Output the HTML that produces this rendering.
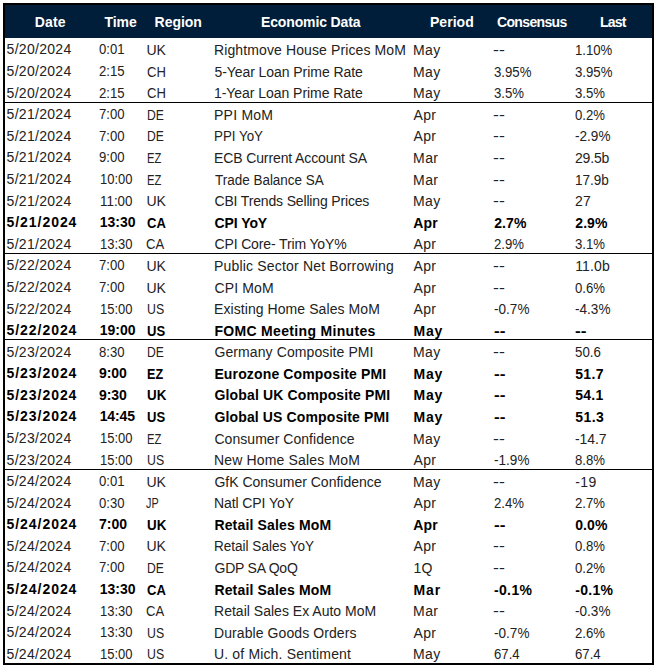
<!DOCTYPE html>
<html><head><meta charset="utf-8"><title>Economic Calendar</title>
<style>
html,body{margin:0;padding:0;background:#fff;}
body{width:659px;height:670px;position:relative;overflow:hidden;font-family:"Liberation Sans",sans-serif;color:#222;}
.frame{position:absolute;left:3px;top:3px;width:647px;height:658px;border:2px solid #000;}
.hdr{position:absolute;left:5px;top:5px;width:647px;height:32.5px;background:#001e39;}
.h{position:absolute;top:12px;height:20px;line-height:20px;color:#fff;font-weight:bold;font-size:14px;white-space:nowrap;}
.c{position:absolute;white-space:nowrap;transform-origin:0 0;font-size:14px;line-height:20px;height:20px;}
.b{font-weight:bold;color:#000;font-size:14px;}
.sep{position:absolute;left:5px;width:647px;height:1px;background:#000;}
</style></head><body>
<div class="frame"></div>
<div class="hdr"></div>
<div class="c" style="left:6.60px;top:39px;letter-spacing:0.289px">5/20/2024</div>
<div class="c" style="left:98.73px;top:39px;transform:scaleX(0.9357)">0:01</div>
<div class="c" style="left:146.40px;top:40px;letter-spacing:-0.117px">UK</div>
<div class="c" style="left:214.00px;top:40px;letter-spacing:0.111px">Rightmove House Prices MoM</div>
<div class="c" style="left:413.10px;top:40px;letter-spacing:0.326px">May</div>
<div class="c" style="left:493.12px;top:40px;transform:scaleX(1.2634)">--</div>
<div class="c" style="left:575.26px;top:40px;transform:scaleX(0.9397)">1.10%</div>
<div class="c" style="left:6.60px;top:61px;letter-spacing:0.289px">5/20/2024</div>
<div class="c" style="left:98.66px;top:61px;transform:scaleX(0.9380)">2:15</div>
<div class="c" style="left:147.30px;top:62px;transform:scaleX(0.9314)">CH</div>
<div class="c" style="left:214.42px;top:62px;letter-spacing:-0.060px">5-Year Loan Prime Rate</div>
<div class="c" style="left:413.10px;top:62px;letter-spacing:0.326px">May</div>
<div class="c" style="left:494.25px;top:62px;transform:scaleX(0.9426)">3.95%</div>
<div class="c" style="left:574.99px;top:62px;transform:scaleX(0.9426)">3.95%</div>
<div class="c" style="left:6.60px;top:83px;letter-spacing:0.289px">5/20/2024</div>
<div class="c" style="left:98.66px;top:83px;transform:scaleX(0.9380)">2:15</div>
<div class="c" style="left:147.30px;top:83px;transform:scaleX(0.9314)">CH</div>
<div class="c" style="left:214.00px;top:83px;letter-spacing:-0.046px">1-Year Loan Prime Rate</div>
<div class="c" style="left:413.10px;top:83px;letter-spacing:0.326px">May</div>
<div class="c" style="left:494.25px;top:83px;transform:scaleX(0.9408)">3.5%</div>
<div class="c" style="left:574.99px;top:83px;transform:scaleX(0.9408)">3.5%</div>
<div class="c" style="left:6.60px;top:104px;letter-spacing:0.289px">5/21/2024</div>
<div class="c" style="left:98.66px;top:104px;transform:scaleX(0.9376)">7:00</div>
<div class="c" style="left:147.13px;top:105px;transform:scaleX(0.8669)">DE</div>
<div class="c" style="left:214.00px;top:105px;letter-spacing:0.241px">PPI MoM</div>
<div class="c" style="left:413.60px;top:105px;letter-spacing:0.293px">Apr</div>
<div class="c" style="left:493.12px;top:105px;transform:scaleX(1.2634)">--</div>
<div class="c" style="left:575.05px;top:105px;transform:scaleX(0.9391)">0.2%</div>
<div class="c" style="left:6.60px;top:126px;letter-spacing:0.289px">5/21/2024</div>
<div class="c" style="left:98.66px;top:126px;transform:scaleX(0.9376)">7:00</div>
<div class="c" style="left:147.13px;top:126px;transform:scaleX(0.8669)">DE</div>
<div class="c" style="left:214.05px;top:126px;transform:scaleX(0.9529)">PPI YoY</div>
<div class="c" style="left:413.60px;top:126px;letter-spacing:0.293px">Apr</div>
<div class="c" style="left:493.12px;top:126px;transform:scaleX(1.2634)">--</div>
<div class="c" style="left:575.03px;top:126px;transform:scaleX(0.9692)">-2.9%</div>
<div class="c" style="left:6.60px;top:147px;letter-spacing:0.289px">5/21/2024</div>
<div class="c" style="left:98.65px;top:147px;transform:scaleX(0.9377)">9:00</div>
<div class="c" style="left:147.20px;top:148px;transform:scaleX(0.8018)">EZ</div>
<div class="c" style="left:214.00px;top:148px;letter-spacing:-0.117px">ECB Current Account SA</div>
<div class="c" style="left:413.10px;top:148px;letter-spacing:0.408px">Mar</div>
<div class="c" style="left:493.12px;top:148px;transform:scaleX(1.2634)">--</div>
<div class="c" style="left:575.00px;top:148px;letter-spacing:-0.168px">29.5b</div>
<div class="c" style="left:6.60px;top:169px;letter-spacing:0.289px">5/21/2024</div>
<div class="c" style="left:99.57px;top:169px;transform:scaleX(0.9271)">10:00</div>
<div class="c" style="left:147.20px;top:170px;transform:scaleX(0.8018)">EZ</div>
<div class="c" style="left:215.00px;top:170px;transform:scaleX(0.9616)">Trade Balance SA</div>
<div class="c" style="left:413.10px;top:170px;letter-spacing:0.408px">Mar</div>
<div class="c" style="left:493.12px;top:170px;transform:scaleX(1.2634)">--</div>
<div class="c" style="left:575.23px;top:170px;transform:scaleX(0.9666)">17.9b</div>
<div class="c" style="left:6.60px;top:191px;letter-spacing:0.289px">5/21/2024</div>
<div class="c" style="left:99.54px;top:191px;transform:scaleX(0.9563)">11:00</div>
<div class="c" style="left:146.40px;top:191px;letter-spacing:-0.117px">UK</div>
<div class="c" style="left:214.48px;top:191px;letter-spacing:-0.160px">CBI Trends Selling Prices</div>
<div class="c" style="left:413.10px;top:191px;letter-spacing:0.326px">May</div>
<div class="c" style="left:493.12px;top:191px;transform:scaleX(1.2634)">--</div>
<div class="c" style="left:575.00px;top:191px;letter-spacing:0.143px">27</div>
<div class="c b" style="left:6.54px;top:212px;letter-spacing:0.948px">5/21/2024</div>
<div class="c b" style="left:99.66px;top:212px;letter-spacing:0.008px">13:30</div>
<div class="c b" style="left:147.20px;top:213px;transform:scaleX(0.9281)">CA</div>
<div class="c b" style="left:214.57px;top:213px;letter-spacing:-0.091px">CPI YoY</div>
<div class="c b" style="left:413.25px;top:213px;letter-spacing:0.194px">Apr</div>
<div class="c b" style="left:494.25px;top:213px;letter-spacing:0.081px">2.7%</div>
<div class="c b" style="left:575.28px;top:213px;letter-spacing:0.075px">2.9%</div>
<div class="c" style="left:6.60px;top:234px;letter-spacing:0.289px">5/21/2024</div>
<div class="c" style="left:99.57px;top:234px;transform:scaleX(0.9271)">13:30</div>
<div class="c" style="left:146.47px;top:234px;transform:scaleX(0.9328)">CA</div>
<div class="c" style="left:214.46px;top:234px;letter-spacing:-0.134px">CPI Core- Trim YoY%</div>
<div class="c" style="left:413.60px;top:234px;letter-spacing:0.293px">Apr</div>
<div class="c" style="left:494.25px;top:234px;transform:scaleX(0.9407)">2.9%</div>
<div class="c" style="left:574.99px;top:234px;transform:scaleX(0.9408)">3.1%</div>
<div class="c" style="left:6.60px;top:255px;letter-spacing:0.289px">5/22/2024</div>
<div class="c" style="left:98.66px;top:255px;transform:scaleX(0.9376)">7:00</div>
<div class="c" style="left:146.40px;top:256px;letter-spacing:-0.117px">UK</div>
<div class="c" style="left:214.00px;top:256px;letter-spacing:0.180px">Public Sector Net Borrowing</div>
<div class="c" style="left:413.60px;top:256px;letter-spacing:0.293px">Apr</div>
<div class="c" style="left:493.12px;top:256px;transform:scaleX(1.2634)">--</div>
<div class="c" style="left:575.20px;top:256px;letter-spacing:0.130px">11.0b</div>
<div class="c" style="left:6.60px;top:277px;letter-spacing:0.289px">5/22/2024</div>
<div class="c" style="left:98.66px;top:277px;transform:scaleX(0.9376)">7:00</div>
<div class="c" style="left:146.40px;top:278px;letter-spacing:-0.117px">UK</div>
<div class="c" style="left:214.46px;top:278px;letter-spacing:0.146px">CPI MoM</div>
<div class="c" style="left:413.60px;top:278px;letter-spacing:0.293px">Apr</div>
<div class="c" style="left:493.12px;top:278px;transform:scaleX(1.2634)">--</div>
<div class="c" style="left:575.05px;top:278px;transform:scaleX(0.9391)">0.6%</div>
<div class="c" style="left:6.60px;top:299px;letter-spacing:0.289px">5/22/2024</div>
<div class="c" style="left:99.57px;top:299px;transform:scaleX(0.9271)">15:00</div>
<div class="c" style="left:146.52px;top:299px;transform:scaleX(0.8780)">US</div>
<div class="c" style="left:214.00px;top:299px;letter-spacing:0.074px">Existing Home Sales MoM</div>
<div class="c" style="left:413.60px;top:299px;letter-spacing:0.293px">Apr</div>
<div class="c" style="left:494.25px;top:299px;transform:scaleX(0.9692)">-0.7%</div>
<div class="c" style="left:575.03px;top:299px;transform:scaleX(0.9692)">-4.3%</div>
<div class="c b" style="left:6.54px;top:320px;letter-spacing:0.948px">5/22/2024</div>
<div class="c b" style="left:99.66px;top:320px;letter-spacing:0.008px">19:00</div>
<div class="c b" style="left:147.40px;top:321px;transform:scaleX(0.9318)">US</div>
<div class="c b" style="left:214.40px;top:321px;letter-spacing:0.326px">FOMC Meeting Minutes</div>
<div class="c b" style="left:413.57px;top:321px;letter-spacing:0.727px">May</div>
<div class="c b" style="left:494.25px;top:321px;transform:scaleX(1.2312)">--</div>
<div class="c b" style="left:575.05px;top:321px;transform:scaleX(1.2312)">--</div>
<div class="c" style="left:6.60px;top:342px;letter-spacing:0.289px">5/23/2024</div>
<div class="c" style="left:98.68px;top:342px;transform:scaleX(0.9369)">8:30</div>
<div class="c" style="left:147.13px;top:342px;transform:scaleX(0.8669)">DE</div>
<div class="c" style="left:214.48px;top:342px;letter-spacing:0.094px">Germany Composite PMI</div>
<div class="c" style="left:413.10px;top:342px;letter-spacing:0.326px">May</div>
<div class="c" style="left:493.12px;top:342px;transform:scaleX(1.2634)">--</div>
<div class="c" style="left:574.93px;top:342px;transform:scaleX(0.9475)">50.6</div>
<div class="c b" style="left:6.54px;top:363px;letter-spacing:0.948px">5/23/2024</div>
<div class="c b" style="left:98.95px;top:363px;letter-spacing:-0.061px">9:00</div>
<div class="c b" style="left:147.40px;top:364px;transform:scaleX(0.8976)">EZ</div>
<div class="c b" style="left:214.40px;top:364px;letter-spacing:0.142px">Eurozone Composite PMI</div>
<div class="c b" style="left:413.57px;top:364px;letter-spacing:0.727px">May</div>
<div class="c b" style="left:494.25px;top:364px;transform:scaleX(1.2312)">--</div>
<div class="c b" style="left:575.16px;top:364px;letter-spacing:0.343px">51.7</div>
<div class="c b" style="left:6.54px;top:385px;letter-spacing:0.948px">5/23/2024</div>
<div class="c b" style="left:98.95px;top:385px;letter-spacing:-0.061px">9:30</div>
<div class="c b" style="left:147.40px;top:385px;transform:scaleX(0.9553)">UK</div>
<div class="c b" style="left:214.56px;top:385px;letter-spacing:0.134px">Global UK Composite PMI</div>
<div class="c b" style="left:413.57px;top:385px;letter-spacing:0.727px">May</div>
<div class="c b" style="left:494.25px;top:385px;transform:scaleX(1.2312)">--</div>
<div class="c b" style="left:575.16px;top:385px;letter-spacing:0.297px">54.1</div>
<div class="c b" style="left:6.54px;top:406px;letter-spacing:0.948px">5/23/2024</div>
<div class="c b" style="left:99.66px;top:406px;letter-spacing:-0.121px">14:45</div>
<div class="c b" style="left:147.40px;top:407px;transform:scaleX(0.9318)">US</div>
<div class="c b" style="left:214.56px;top:407px;letter-spacing:0.123px">Global US Composite PMI</div>
<div class="c b" style="left:413.57px;top:407px;letter-spacing:0.727px">May</div>
<div class="c b" style="left:494.25px;top:407px;transform:scaleX(1.2312)">--</div>
<div class="c b" style="left:575.16px;top:407px;letter-spacing:0.450px">51.3</div>
<div class="c" style="left:6.60px;top:428px;letter-spacing:0.289px">5/23/2024</div>
<div class="c" style="left:99.57px;top:428px;transform:scaleX(0.9271)">15:00</div>
<div class="c" style="left:147.20px;top:429px;transform:scaleX(0.8018)">EZ</div>
<div class="c" style="left:214.46px;top:429px;letter-spacing:0.043px">Consumer Confidence</div>
<div class="c" style="left:413.10px;top:429px;letter-spacing:0.326px">May</div>
<div class="c" style="left:493.12px;top:429px;transform:scaleX(1.2634)">--</div>
<div class="c" style="left:575.03px;top:429px;letter-spacing:-0.111px">-14.7</div>
<div class="c" style="left:6.60px;top:450px;letter-spacing:0.289px">5/23/2024</div>
<div class="c" style="left:99.57px;top:450px;transform:scaleX(0.9271)">15:00</div>
<div class="c" style="left:146.52px;top:450px;transform:scaleX(0.8780)">US</div>
<div class="c" style="left:214.00px;top:450px;letter-spacing:0.156px">New Home Sales MoM</div>
<div class="c" style="left:413.60px;top:450px;letter-spacing:0.293px">Apr</div>
<div class="c" style="left:494.25px;top:450px;transform:scaleX(0.9692)">-1.9%</div>
<div class="c" style="left:575.01px;top:450px;transform:scaleX(0.9401)">8.8%</div>
<div class="c" style="left:6.60px;top:471px;letter-spacing:0.289px">5/24/2024</div>
<div class="c" style="left:98.73px;top:471px;transform:scaleX(0.9357)">0:01</div>
<div class="c" style="left:146.40px;top:472px;letter-spacing:-0.117px">UK</div>
<div class="c" style="left:214.48px;top:472px;letter-spacing:-0.014px">GfK Consumer Confidence</div>
<div class="c" style="left:413.10px;top:472px;letter-spacing:0.326px">May</div>
<div class="c" style="left:493.12px;top:472px;transform:scaleX(1.2634)">--</div>
<div class="c" style="left:575.15px;top:472px;letter-spacing:0.481px">-19</div>
<div class="c" style="left:6.60px;top:493px;letter-spacing:0.289px">5/24/2024</div>
<div class="c" style="left:98.73px;top:493px;transform:scaleX(0.9349)">0:30</div>
<div class="c" style="left:146.48px;top:493px;transform:scaleX(0.7718)">JP</div>
<div class="c" style="left:214.00px;top:493px;letter-spacing:-0.088px">Natl CPI YoY</div>
<div class="c" style="left:413.60px;top:493px;letter-spacing:0.293px">Apr</div>
<div class="c" style="left:494.25px;top:493px;transform:scaleX(0.9407)">2.4%</div>
<div class="c" style="left:575.00px;top:493px;transform:scaleX(0.9407)">2.7%</div>
<div class="c b" style="left:6.54px;top:514px;letter-spacing:0.948px">5/24/2024</div>
<div class="c b" style="left:98.89px;top:514px;letter-spacing:0.076px">7:00</div>
<div class="c b" style="left:147.40px;top:515px;transform:scaleX(0.9553)">UK</div>
<div class="c b" style="left:214.40px;top:515px;letter-spacing:0.166px">Retail Sales MoM</div>
<div class="c b" style="left:413.25px;top:515px;letter-spacing:0.194px">Apr</div>
<div class="c b" style="left:494.25px;top:515px;transform:scaleX(1.2312)">--</div>
<div class="c b" style="left:575.23px;top:515px;letter-spacing:0.094px">0.0%</div>
<div class="c" style="left:6.60px;top:536px;letter-spacing:0.289px">5/24/2024</div>
<div class="c" style="left:98.66px;top:536px;transform:scaleX(0.9376)">7:00</div>
<div class="c" style="left:146.40px;top:536px;letter-spacing:-0.117px">UK</div>
<div class="c" style="left:214.03px;top:536px;transform:scaleX(0.9669)">Retail Sales YoY</div>
<div class="c" style="left:413.60px;top:536px;letter-spacing:0.293px">Apr</div>
<div class="c" style="left:493.12px;top:536px;transform:scaleX(1.2634)">--</div>
<div class="c" style="left:575.05px;top:536px;transform:scaleX(0.9391)">0.8%</div>
<div class="c" style="left:6.60px;top:557px;letter-spacing:0.289px">5/24/2024</div>
<div class="c" style="left:98.66px;top:557px;transform:scaleX(0.9376)">7:00</div>
<div class="c" style="left:147.13px;top:558px;transform:scaleX(0.8669)">DE</div>
<div class="c" style="left:214.49px;top:558px;letter-spacing:-0.223px">GDP SA QoQ</div>
<div class="c" style="left:413.40px;top:558px;letter-spacing:0.248px">1Q</div>
<div class="c" style="left:493.12px;top:558px;transform:scaleX(1.2634)">--</div>
<div class="c" style="left:575.05px;top:558px;transform:scaleX(0.9391)">0.2%</div>
<div class="c b" style="left:6.54px;top:579px;letter-spacing:0.948px">5/24/2024</div>
<div class="c b" style="left:99.66px;top:579px;letter-spacing:0.008px">13:30</div>
<div class="c b" style="left:147.20px;top:580px;transform:scaleX(0.9281)">CA</div>
<div class="c b" style="left:214.40px;top:580px;letter-spacing:0.166px">Retail Sales MoM</div>
<div class="c b" style="left:413.57px;top:580px;letter-spacing:0.822px">Mar</div>
<div class="c b" style="left:493.89px;top:580px;letter-spacing:0.396px">-0.1%</div>
<div class="c b" style="left:575.24px;top:580px;letter-spacing:0.306px">-0.1%</div>
<div class="c" style="left:6.60px;top:601px;letter-spacing:0.289px">5/24/2024</div>
<div class="c" style="left:99.57px;top:601px;transform:scaleX(0.9271)">13:30</div>
<div class="c" style="left:146.47px;top:601px;transform:scaleX(0.9328)">CA</div>
<div class="c" style="left:214.00px;top:601px;letter-spacing:0.016px">Retail Sales Ex Auto MoM</div>
<div class="c" style="left:413.10px;top:601px;letter-spacing:0.408px">Mar</div>
<div class="c" style="left:493.12px;top:601px;transform:scaleX(1.2634)">--</div>
<div class="c" style="left:575.03px;top:601px;transform:scaleX(0.9692)">-0.3%</div>
<div class="c" style="left:6.60px;top:622px;letter-spacing:0.289px">5/24/2024</div>
<div class="c" style="left:99.57px;top:622px;transform:scaleX(0.9271)">13:30</div>
<div class="c" style="left:146.52px;top:623px;transform:scaleX(0.8780)">US</div>
<div class="c" style="left:214.00px;top:623px;letter-spacing:0.084px">Durable Goods Orders</div>
<div class="c" style="left:413.60px;top:623px;letter-spacing:0.293px">Apr</div>
<div class="c" style="left:494.25px;top:623px;transform:scaleX(0.9692)">-0.7%</div>
<div class="c" style="left:575.00px;top:623px;transform:scaleX(0.9407)">2.6%</div>
<div class="c" style="left:6.60px;top:644px;letter-spacing:0.289px">5/24/2024</div>
<div class="c" style="left:99.57px;top:644px;transform:scaleX(0.9271)">15:00</div>
<div class="c" style="left:146.52px;top:644px;transform:scaleX(0.8780)">US</div>
<div class="c" style="left:214.00px;top:644px;letter-spacing:0.154px">U. of Mich. Sentiment</div>
<div class="c" style="left:413.10px;top:644px;letter-spacing:0.326px">May</div>
<div class="c" style="left:494.25px;top:644px;transform:scaleX(0.9417)">67.4</div>
<div class="c" style="left:574.98px;top:644px;transform:scaleX(0.9417)">67.4</div>
<div class="h" style="left:34.70px;letter-spacing:0.180px">Date</div>
<div class="h" style="left:104.50px;letter-spacing:-0.079px">Time</div>
<div class="h" style="left:154.60px;letter-spacing:-0.038px">Region</div>
<div class="h" style="left:261.00px;letter-spacing:-0.138px">Economic Data</div>
<div class="h" style="left:429.90px;letter-spacing:0.057px">Period</div>
<div class="h" style="left:497.00px;letter-spacing:-0.647px">Consensus</div>
<div class="h" style="left:600.00px;letter-spacing:-0.775px">Last</div>
<div class="sep" style="top:102px"></div>
<div class="sep" style="top:253px"></div>
<div class="sep" style="top:339px"></div>
<div class="sep" style="top:469px"></div>
</body></html>
